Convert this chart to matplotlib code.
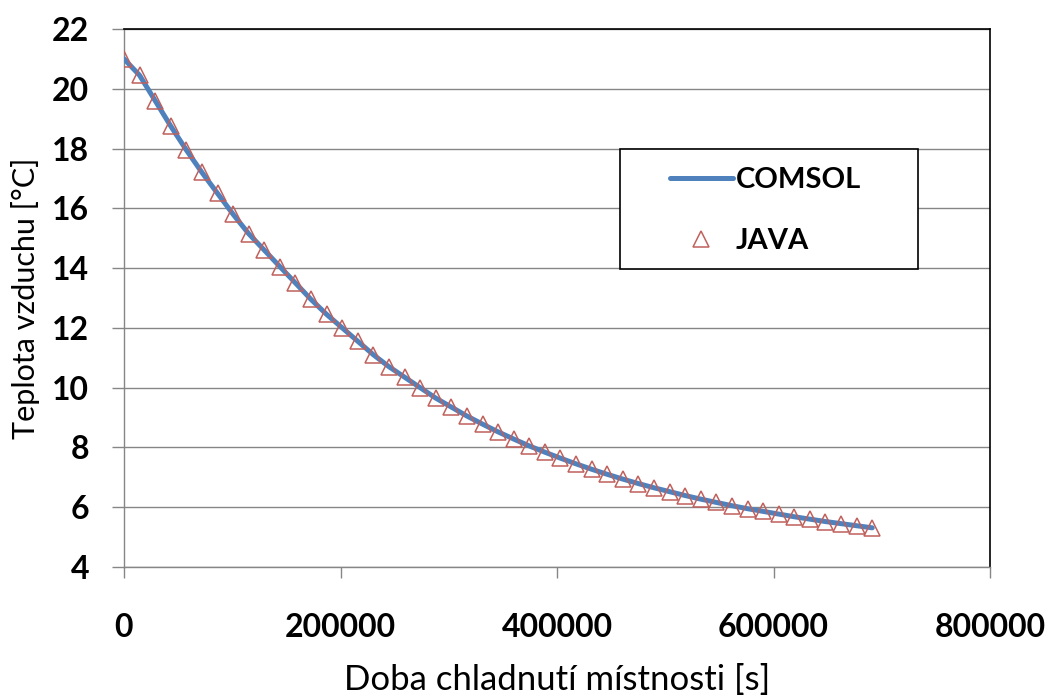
#!/usr/bin/env python3
"""Air temperature during room cool-down: COMSOL vs JAVA."""
import matplotlib
matplotlib.use("Agg")
import matplotlib.pyplot as plt
import matplotlib.patches as mpatches

BLUE = "#4F81BD"
RED = "#C0605C"
AXIS_GRAY = "#868686"

# time in seconds, one sample every 4 hours
time_s = [14400 * k for k in range(49)]
temp_java = [
    21.0, 20.45, 19.6, 18.75, 17.95, 17.2, 16.5, 15.8, 15.15, 14.6,
    14.05, 13.5, 12.95, 12.45, 12.0, 11.55, 11.1, 10.7, 10.35, 10.0,
    9.65, 9.35, 9.05, 8.78, 8.52, 8.28, 8.05, 7.84, 7.64, 7.45,
    7.27, 7.1, 6.94, 6.79, 6.65, 6.52, 6.39, 6.27, 6.16, 6.05,
    5.95, 5.86, 5.77, 5.68, 5.6, 5.52, 5.45, 5.38, 5.31,
]
temp_comsol = list(temp_java)

x_ticks = [0, 200000, 400000, 600000, 800000]
y_ticks = [4, 6, 8, 10, 12, 14, 16, 18, 20, 22]

plt.rcParams["font.family"] = ["Lato", "DejaVu Sans"]

fig = plt.figure(figsize=(10.49, 6.95), dpi=100, facecolor="white")
ax = fig.add_axes([0.1182, 0.1842, 0.8256, 0.7741])

ax.plot(time_s, temp_comsol, color=BLUE, lw=3.6, solid_capstyle="round",
        zorder=3, label="COMSOL")
ax.plot(time_s, temp_java, ls="none", marker="^", ms=11, mfc="none",
        mec=RED, mew=1.1, zorder=4, label="JAVA")

ax.set_xlim(0, 800000)
ax.set_ylim(4, 22)
ax.set_xticks(x_ticks)
ax.set_xticklabels([str(v) for v in x_ticks])
ax.set_yticks(y_ticks)
ax.set_yticklabels([str(v) for v in y_ticks])

ax.grid(axis="y", color=AXIS_GRAY, lw=1.0, zorder=0)
ax.set_axisbelow(True)

for side in ("left", "bottom"):
    ax.spines[side].set_color(AXIS_GRAY)
    ax.spines[side].set_linewidth(1.0)
for side in ("top", "right"):
    ax.spines[side].set_color("black")
    ax.spines[side].set_linewidth(1.2)

ax.tick_params(axis="y", direction="out", length=9, width=1.0,
               color=AXIS_GRAY, pad=16, labelsize=23)
ax.tick_params(axis="x", direction="out", length=8, width=1.0,
               color=AXIS_GRAY, pad=25, labelsize=23)
for lbl in ax.get_xticklabels() + ax.get_yticklabels():
    lbl.set_fontweight("bold")

ax.set_xlabel("Doba chladnutí místnosti [s]", fontsize=25, labelpad=16)
ax.set_ylabel("Teplota vzduchu [°C]", fontsize=22, labelpad=9)

# legend box
ax.add_patch(mpatches.Rectangle((0.5727, 0.553), 0.3441, 0.223,
                                transform=ax.transAxes, fill=True,
                                facecolor="white", edgecolor="black",
                                lw=1.2, zorder=5))
leg = ax.legend(loc="upper left", bbox_to_anchor=(0.6305, 0.7435),
                frameon=False, borderpad=0, borderaxespad=0,
                handlelength=2.15, handletextpad=0.1,
                labelspacing=1.2, prop={"weight": "bold", "size": 21})
leg.set_zorder(6)

fig.savefig("out.png", dpi=100, facecolor="white")
